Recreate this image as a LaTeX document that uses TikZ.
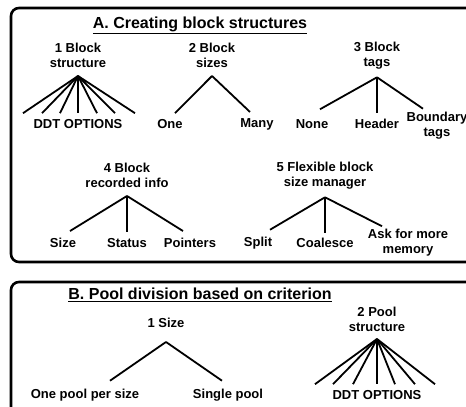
\documentclass[tikz,border=0pt]{standalone}
\usepackage{fontspec}
\setmainfont{Liberation Sans}
\begin{document}
\begin{tikzpicture}[x=1pt, y=-1pt,
  frame/.style={draw, line width=2.6pt, rounded corners=8pt},
  title/.style={font=\fontsize{16}{19}\selectfont\bfseries},
  head/.style={font=\fontsize{13}{15}\selectfont\bfseries, align=center, inner sep=2pt},
  leaf/.style={font=\fontsize{13}{15}\selectfont\bfseries, align=center, inner sep=2pt},
  branch/.style={line width=1.8pt}]
\useasboundingbox (0,0) rectangle (466,407);
\clip (0,0) rectangle (466,407);
% A: block structures
\draw[frame] (11,8) rectangle (490,262);
\node[title] (ta) at (200,25) {\underline{A. Creating block structures}};

\node[head] (s1) at (78,55.5) {1 Block\\structure};
\node[leaf] (d1) at (78,124) {DDT OPTIONS};
\foreach \dx in {-55,-36,-18,0,19,37,57}
  \draw[branch] ([yshift=-6pt]s1.south) -- ([xshift=\dx pt, yshift=4pt]d1.north);

\node[head] (s2) at (212,55.5) {2 Block\\sizes};
\node[leaf] (one) at (170,124) {One};
\node[leaf] (many) at (257,124) {Many};
\draw[branch] ([yshift=-6pt]s2.south) -- ([xshift=5pt, yshift=4pt]one.north);
\draw[branch] ([yshift=-6pt]s2.south) -- ([xshift=-7pt, yshift=4pt]many.north);

\node[head] (s3) at (377,55.5) {3 Block\\tags};
\node[leaf] (none) at (312,124) {None};
\node[leaf] (header) at (377,124) {Header};
\node[leaf] (bound) at (437,125.5) {Boundary\\tags};
\draw[branch] ([yshift=-6pt]s3.south) -- ([xshift=8pt, yshift=8pt]none.north);
\draw[branch] ([yshift=-6pt]s3.south) -- ([yshift=4pt]header.north);
\draw[branch] ([yshift=-6pt]s3.south) -- ([xshift=-14pt, yshift=1pt]bound.north);

\node[head] (s4) at (127,175.5) {4 Block\\recorded info};
\node[leaf] (size) at (63,243) {Size};
\node[leaf] (status) at (127,243) {Status};
\node[leaf] (ptrs) at (190,243) {Pointers};
\draw[branch] ([yshift=-6pt]s4.south) -- ([xshift=7pt, yshift=5pt]size.north);
\draw[branch] ([yshift=-6pt]s4.south) -- ([yshift=4pt]status.north);
\draw[branch] ([yshift=-6pt]s4.south) -- ([xshift=-7pt, yshift=5pt]ptrs.north);

\node[head] (s5) at (325,175.5) {5 Flexible block\\size manager};
\node[leaf] (split) at (258,243) {Split};
\node[leaf] (coal) at (325,243) {Coalesce};
\node[leaf] (ask) at (408,243) {Ask for more\\memory};
\draw[branch] ([yshift=-6pt]s5.south) -- ([xshift=12pt, yshift=5pt]split.north);
\draw[branch] ([yshift=-6pt]s5.south) -- ([yshift=3pt]coal.north);
\draw[branch] ([yshift=-6pt]s5.south) -- ([xshift=-26pt, yshift=1pt]ask.north);

% B: pools
\draw[frame] (11,282) rectangle (490,440);
\node[title] (tb) at (200,295) {\underline{B. Pool division based on criterion}};

\node[head] (p1) at (166,323) {1 Size};
\node[leaf] (perpool) at (85,395) {One pool per size};
\node[leaf] (single) at (228,395) {Single pool};
\draw[branch] ([yshift=-12pt]p1.south) -- ([xshift=25pt, yshift=6pt]perpool.north);
\draw[branch] ([yshift=-12pt]p1.south) -- ([xshift=-6pt, yshift=6pt]single.north);

\node[head] (p2) at (377,319.5) {2 Pool\\structure};
\node[leaf] (d2) at (377,395) {DDT OPTIONS};
\foreach \dx in {-62,-44,-24,0,18,38,58}
  \draw[branch] ([yshift=-5pt]p2.south) -- ([xshift=\dx pt, yshift=4pt]d2.north);
\end{tikzpicture}
\end{document}
